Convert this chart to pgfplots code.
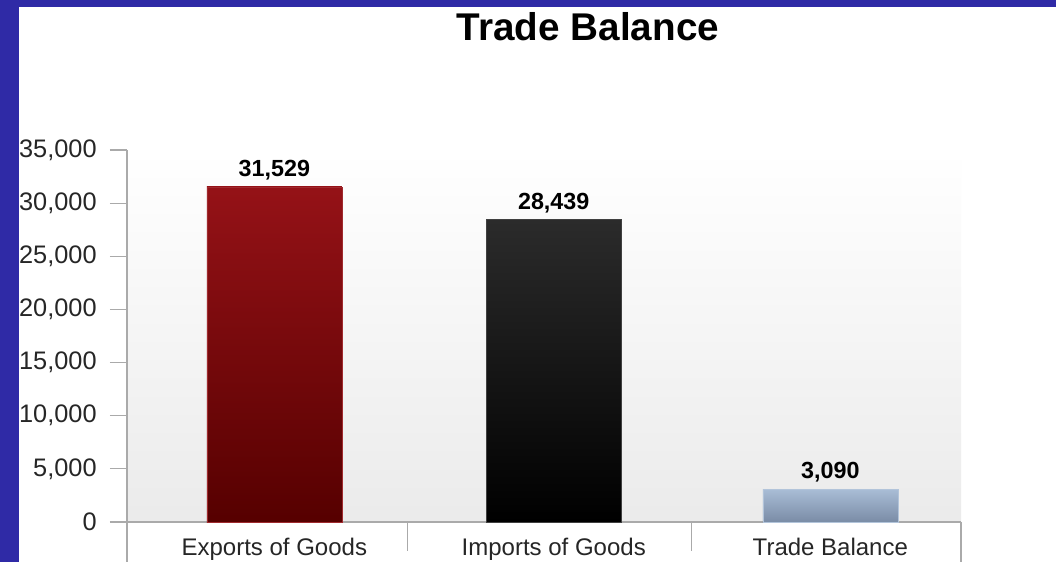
\documentclass[border=0pt]{standalone}
\usepackage{fontspec}
\setmainfont{Liberation Sans}
\usepackage{pgfplots}
\pgfplotsset{compat=1.18}

\definecolor{bgblue}{HTML}{2F2AA6}
\definecolor{axgray}{HTML}{AAAAAA}
\definecolor{redtop}{HTML}{951217}
\definecolor{redbot}{HTML}{560000}
\definecolor{blktop}{HTML}{2B2B2B}
\definecolor{blkbot}{HTML}{000000}
\definecolor{blutop}{HTML}{A9BDD6}
\definecolor{blubot}{HTML}{7A8CA6}

\begin{document}
\begin{tikzpicture}[x=0.75pt,y=0.75pt]
% page frame: blue border, white panel (pixel units, y from bottom)
\fill[bgblue] (0,0) rectangle (1056,562);
\fill[white] (19,0) rectangle (1056,555);
\useasboundingbox (0,0) rectangle (1056,562);
\node[font=\bfseries\fontsize{29}{34}\selectfont, anchor=base] at (588,522) {Trade Balance};

\begin{axis}[
  at={(95.25pt,30pt)}, anchor=south west,
  scale only axis,
  width=625.5pt, height=279pt,
  xmin=0, xmax=3,
  ymin=0, ymax=35000,
  ybar, bar width=101.25pt, bar shift=0pt,
  axis x line=bottom, axis y line=left,
  axis line style={axgray, line width=0.8pt, -},
  axis background/.style={top color=white, bottom color=gray!16},
  ytick={0,5000,...,35000},
  scaled y ticks=false,
  /pgf/number format/1000 sep={,},
  /pgf/number format/assume math mode=true,
  tick align=outside,
  y tick style={axgray, line width=0.8pt},
  major tick length=12.75pt,
  yticklabel style={font=\fontsize{19}{21}\selectfont, text=black!85, xshift=-6.5pt},
  xtick={0.53,1.535,2.53},
  xticklabels={Exports of Goods, Imports of Goods, Trade Balance},
  x tick style={draw=none},
  xticklabel style={font=\fontsize{18}{20}\selectfont, text=black!85, anchor=base, yshift=-12.5pt},
  nodes near coords,
  every node near coord/.append style={font=\bfseries\fontsize{17.5}{20}\selectfont, text=black, anchor=base, yshift=8pt},
  clip=false,
]
\addplot[draw=redtop!90!white, line width=0.5pt, top color=redtop, bottom color=redbot] coordinates {(0.53,31529)};
\addplot[draw=blktop!90!white, line width=0.5pt, top color=blktop, bottom color=blkbot] coordinates {(1.535,28439)};
\addplot[draw=blutop!90!white, line width=0.5pt, top color=blutop, bottom color=blubot] coordinates {(2.53,3090)};
% category separators and axis extensions below the baseline
\draw[axgray, line width=0.8pt] (axis cs:0,0) -- ++(0,-30pt);
\draw[axgray, line width=0.8pt] (axis cs:1.01,0) -- ++(0,-22pt);
\draw[axgray, line width=0.8pt] (axis cs:2.03,0) -- ++(0,-22pt);
\draw[axgray, line width=0.8pt] (axis cs:3,0) -- ++(0,-30pt);
\end{axis}
\end{tikzpicture}
\end{document}
